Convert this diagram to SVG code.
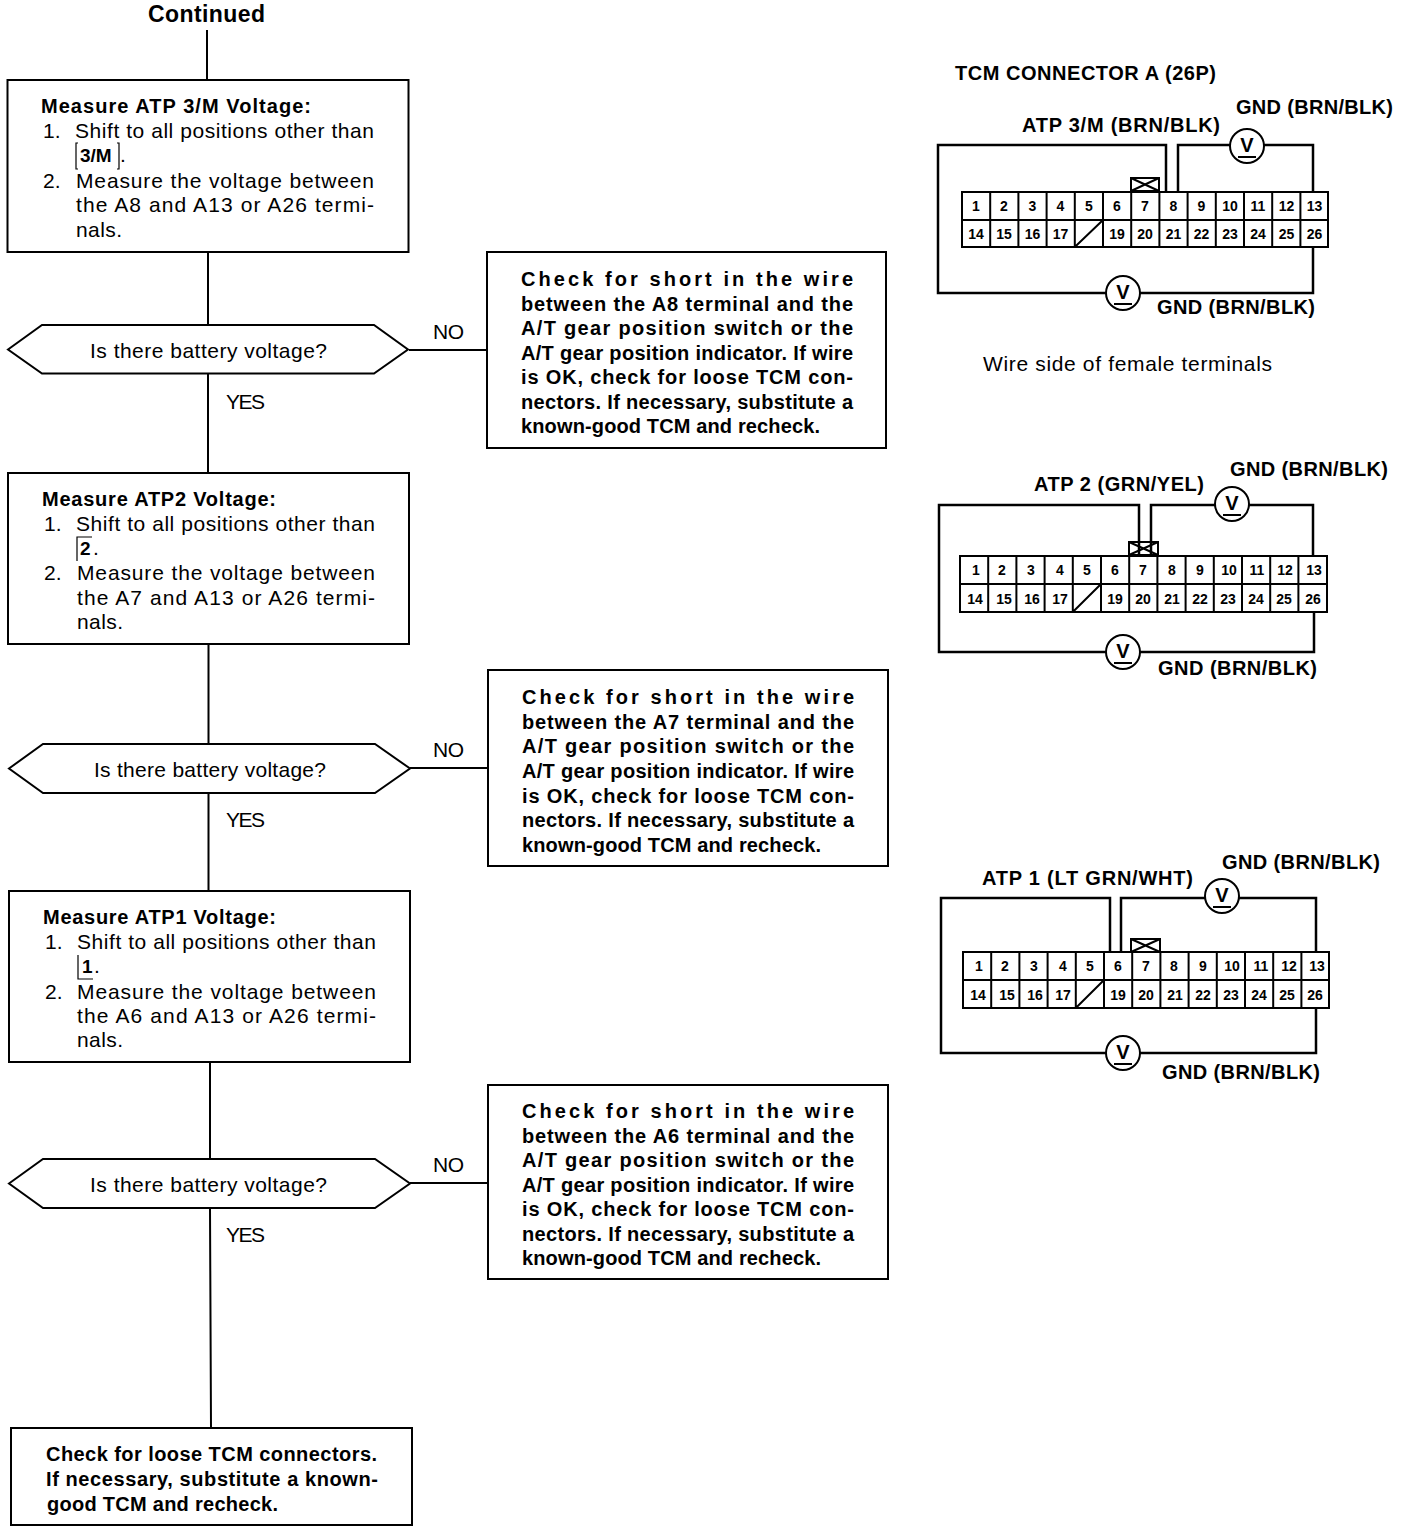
<svg xmlns="http://www.w3.org/2000/svg" width="1408" height="1532" viewBox="0 0 1408 1532">
<style>
text{font-family:"Liberation Sans",Arial,sans-serif;fill:#000}
.r{font-size:21px}
.b{font-size:20px;font-weight:bold}
.l{font-size:20px;font-weight:bold}
.n{font-size:14px;font-weight:bold;text-anchor:middle}
.k{font-size:19px;font-weight:bold}
.v{font-size:20px;font-weight:bold;text-anchor:middle}
.box{fill:#fff;stroke:#000;stroke-width:2}
.wire{fill:none;stroke:#000;stroke-width:2.5}
.thin{fill:none;stroke:#000;stroke-width:2}
.hair{fill:none;stroke:#000;stroke-width:1.2}
.m{fill:#fff;stroke:#000;stroke-width:2}
</style>
<rect width="1408" height="1532" fill="#fff"/>
<g id="connectors" class="thin">
<path d="M207 30V80M208 252V325M208 373V473M409 350H487"/>
<path d="M208.500 644V744M208.500 793V891M410 768H488"/>
<path d="M210 1062V1159M210 1208L211 1428M410 1183H488"/>
</g>
<g id="title"><text x="148" y="22" font-size="23" font-weight="bold" textLength="117">Continued</text></g>

<g id="measure-atp3m">
<rect class="box" x="7.500" y="80" width="401" height="172"/>
<text class="b" x="41" y="113" textLength="270">Measure ATP 3/M Voltage:</text>
<text class="r" x="43" y="138">1.</text>
<text class="r" x="75" y="138" textLength="299">Shift to all positions other than</text>
<path class="hair" d="M78 143H76V169H78M117 143H119V169H117"/>
<text class="k" x="80" y="162">3/M</text>
<text class="r" x="120" y="162">.</text>
<text class="r" x="43" y="188">2.</text>
<text class="r" x="76" y="188" textLength="298">Measure the voltage between</text>
<text class="r" x="76" y="212" textLength="298">the A8 and A13 or A26 termi-</text>
<text class="r" x="76" y="237" textLength="46">nals.</text>
</g>
<g id="decision-1">
<path class="box" d="M8 349.500L42 325H374L408 349.500L374 373.500H42Z"/>
<text class="r" x="90" y="358" textLength="237">Is there battery voltage?</text>
</g>
<text id="no-1" class="r" x="433" y="339" textLength="31">NO</text>
<text id="yes-1" class="r" x="226" y="409" textLength="39">YES</text>
<g id="check-a8">
<rect class="box" x="487" y="252" width="399" height="196"/>
<text class="b" x="521" y="286" textLength="332">Check for short in the wire</text>
<text class="b" x="521" y="311" textLength="332">between the A8 terminal and the</text>
<text class="b" x="521" y="335" textLength="332">A/T gear position switch or the</text>
<text class="b" x="521" y="360" textLength="332">A/T gear position indicator. If wire</text>
<text class="b" x="521" y="384" textLength="332">is OK, check for loose TCM con-</text>
<text class="b" x="521" y="409" textLength="332">nectors. If necessary, substitute a</text>
<text class="b" x="521" y="433" textLength="299">known-good TCM and recheck.</text>
</g>

<g id="measure-atp2">
<rect class="box" x="8" y="473" width="401" height="171"/>
<text class="b" x="42" y="506" textLength="234">Measure ATP2 Voltage:</text>
<text class="r" x="44" y="531">1.</text>
<text class="r" x="76" y="531" textLength="299">Shift to all positions other than</text>
<path class="hair" d="M77 561V537H92"/>
<text class="k" x="80" y="555">2</text>
<text class="r" x="93" y="555">.</text>
<text class="r" x="44" y="580">2.</text>
<text class="r" x="77" y="580" textLength="298">Measure the voltage between</text>
<text class="r" x="77" y="605" textLength="298">the A7 and A13 or A26 termi-</text>
<text class="r" x="77" y="629" textLength="46">nals.</text>
</g>
<g id="decision-2">
<path class="box" d="M9 768.500L43 744H375L410 768.500L375 793H43Z"/>
<text class="r" x="94" y="777" textLength="232">Is there battery voltage?</text>
</g>
<text id="no-2" class="r" x="433" y="757" textLength="31">NO</text>
<text id="yes-2" class="r" x="226" y="827" textLength="39">YES</text>
<g id="check-a7">
<rect class="box" x="488" y="670" width="400" height="196"/>
<text class="b" x="522" y="704" textLength="332">Check for short in the wire</text>
<text class="b" x="522" y="729" textLength="332">between the A7 terminal and the</text>
<text class="b" x="522" y="753" textLength="332">A/T gear position switch or the</text>
<text class="b" x="522" y="778" textLength="332">A/T gear position indicator. If wire</text>
<text class="b" x="522" y="803" textLength="332">is OK, check for loose TCM con-</text>
<text class="b" x="522" y="827" textLength="332">nectors. If necessary, substitute a</text>
<text class="b" x="522" y="852" textLength="299">known-good TCM and recheck.</text>
</g>

<g id="measure-atp1">
<rect class="box" x="9" y="891" width="401" height="171"/>
<text class="b" x="43" y="924" textLength="233">Measure ATP1 Voltage:</text>
<text class="r" x="45" y="949">1.</text>
<text class="r" x="77" y="949" textLength="299">Shift to all positions other than</text>
<path class="hair" d="M78 955V979H93"/>
<text class="k" x="82" y="973">1</text>
<text class="r" x="94" y="973">.</text>
<text class="r" x="45" y="999">2.</text>
<text class="r" x="77" y="999" textLength="299">Measure the voltage between</text>
<text class="r" x="77" y="1023" textLength="299">the A6 and A13 or A26 termi-</text>
<text class="r" x="77" y="1047" textLength="46">nals.</text>
</g>
<g id="decision-3">
<path class="box" d="M9 1183.500L43 1159H375L410 1183.500L375 1208H43Z"/>
<text class="r" x="90" y="1192" textLength="237">Is there battery voltage?</text>
</g>
<text id="no-3" class="r" x="433" y="1172" textLength="31">NO</text>
<text id="yes-3" class="r" x="226" y="1242" textLength="39">YES</text>
<g id="check-a6">
<rect class="box" x="488" y="1085" width="400" height="194"/>
<text class="b" x="522" y="1118" textLength="332">Check for short in the wire</text>
<text class="b" x="522" y="1143" textLength="332">between the A6 terminal and the</text>
<text class="b" x="522" y="1167" textLength="332">A/T gear position switch or the</text>
<text class="b" x="522" y="1192" textLength="332">A/T gear position indicator. If wire</text>
<text class="b" x="522" y="1216" textLength="332">is OK, check for loose TCM con-</text>
<text class="b" x="522" y="1241" textLength="332">nectors. If necessary, substitute a</text>
<text class="b" x="522" y="1265" textLength="299">known-good TCM and recheck.</text>
</g>

<g id="final-check">
<rect class="box" x="11" y="1428" width="401" height="97"/>
<text class="b" x="46" y="1461" textLength="331">Check for loose TCM connectors.</text>
<text class="b" x="46" y="1486" textLength="332">If necessary, substitute a known-</text>
<text class="b" x="47" y="1511" textLength="231">good TCM and recheck.</text>
</g>

<g id="connector-atp3m">
<text class="l" x="955" y="80" textLength="261">TCM CONNECTOR A (26P)</text>
<text class="l" x="1236" y="114" textLength="157">GND (BRN/BLK)</text>
<text class="l" x="1022" y="132" textLength="198">ATP 3/M (BRN/BLK)</text>
<text class="l" x="1157" y="314" textLength="158">GND (BRN/BLK)</text>
<text class="r" x="983" y="371" textLength="289">Wire side of female terminals</text>
<path class="wire" d="M1166 191V145H938V293H1313V247M1178 191V145H1313V191"/>
<path class="thin" d="M1131 178H1159V191H1131ZM1131 178L1159 191M1159 178L1131 191"/>
<circle class="m" cx="1247" cy="146" r="17"/><text class="v" x="1247" y="152">V</text><path class="thin" d="M1238 157H1256"/>
<circle class="m" cx="1123" cy="293" r="17"/><text class="v" x="1123" y="299">V</text><path class="thin" d="M1114 304H1132"/>
<g transform="translate(962 192)">
<path class="thin" d="M0 0H366V55H0ZM0 28H366M28.200 0V55M56.400 0V55M84.600 0V55M112.800 0V55M141 0V55M169.200 0V55M197.400 0V55M225.600 0V55M253.800 0V55M282 0V55M310.200 0V55M338.400 0V55M112.800 55L141 28"/>
<text class="n" x="14" y="19">1</text><text class="n" x="42" y="19">2</text><text class="n" x="70.500" y="19">3</text><text class="n" x="98.500" y="19">4</text><text class="n" x="127" y="19">5</text><text class="n" x="155" y="19">6</text><text class="n" x="183" y="19">7</text><text class="n" x="211.500" y="19">8</text><text class="n" x="239.500" y="19">9</text><text class="n" x="268" y="19">10</text><text class="n" x="296" y="19">11</text><text class="n" x="324.500" y="19">12</text><text class="n" x="352.500" y="19">13</text>
<text class="n" x="14" y="47">14</text><text class="n" x="42" y="47">15</text><text class="n" x="70.500" y="47">16</text><text class="n" x="98.500" y="47">17</text><text class="n" x="155" y="47">19</text><text class="n" x="183" y="47">20</text><text class="n" x="211.500" y="47">21</text><text class="n" x="239.500" y="47">22</text><text class="n" x="268" y="47">23</text><text class="n" x="296" y="47">24</text><text class="n" x="324.500" y="47">25</text><text class="n" x="352.500" y="47">26</text>
</g>
</g>

<g id="connector-atp2">
<text class="l" x="1230" y="476" textLength="158">GND (BRN/BLK)</text>
<text class="l" x="1034" y="491" textLength="170">ATP 2 (GRN/YEL)</text>
<text class="l" x="1158" y="675" textLength="159">GND (BRN/BLK)</text>
<path class="wire" d="M1139 555V505H939V652H1314V612M1151 555V505H1313V555"/>
<path class="thin" d="M1129 542H1158V555H1129ZM1129 542L1158 555M1158 542L1129 555"/>
<circle class="m" cx="1232" cy="504" r="17"/><text class="v" x="1232" y="510">V</text><path class="thin" d="M1223 515H1241"/>
<circle class="m" cx="1123" cy="652" r="17"/><text class="v" x="1123" y="658">V</text><path class="thin" d="M1114 663H1132"/>
<g transform="translate(960 556)">
<path class="thin" d="M0 0H367V56H0ZM0 28H367M28.200 0V56M56.400 0V56M84.600 0V56M112.800 0V56M141 0V56M169.200 0V56M197.400 0V56M225.600 0V56M253.800 0V56M282 0V56M310.200 0V56M338.400 0V56M112.800 56L141 28"/>
<text class="n" x="16" y="19">1</text><text class="n" x="42" y="19">2</text><text class="n" x="71" y="19">3</text><text class="n" x="100" y="19">4</text><text class="n" x="127" y="19">5</text><text class="n" x="155" y="19">6</text><text class="n" x="183" y="19">7</text><text class="n" x="212" y="19">8</text><text class="n" x="240" y="19">9</text><text class="n" x="269" y="19">10</text><text class="n" x="297" y="19">11</text><text class="n" x="325" y="19">12</text><text class="n" x="354" y="19">13</text>
<text class="n" x="15" y="48">14</text><text class="n" x="44" y="48">15</text><text class="n" x="72" y="48">16</text><text class="n" x="100" y="48">17</text><text class="n" x="155" y="48">19</text><text class="n" x="183" y="48">20</text><text class="n" x="212" y="48">21</text><text class="n" x="240" y="48">22</text><text class="n" x="268" y="48">23</text><text class="n" x="296" y="48">24</text><text class="n" x="324" y="48">25</text><text class="n" x="353" y="48">26</text>
</g>
</g>

<g id="connector-atp1">
<text class="l" x="1222" y="869" textLength="158">GND (BRN/BLK)</text>
<text class="l" x="982" y="885" textLength="211">ATP 1 (LT GRN/WHT)</text>
<text class="l" x="1162" y="1079" textLength="158">GND (BRN/BLK)</text>
<path class="wire" d="M1110 952V898H941V1053H1316V1008M1121 952V898H1316V952"/>
<path class="thin" d="M1131 939H1160V952H1131ZM1131 939L1160 952M1160 939L1131 952"/>
<circle class="m" cx="1222" cy="896" r="17"/><text class="v" x="1222" y="902">V</text><path class="thin" d="M1213 907H1231"/>
<circle class="m" cx="1123" cy="1053" r="17"/><text class="v" x="1123" y="1059">V</text><path class="thin" d="M1114 1064H1132"/>
<g transform="translate(963 952)">
<path class="thin" d="M0 0H366V56H0ZM0 28H366M28.200 0V56M56.400 0V56M84.600 0V56M112.800 0V56M141 0V56M169.200 0V56M197.400 0V56M225.600 0V56M253.800 0V56M282 0V56M310.200 0V56M338.400 0V56M112.800 56L141 28"/>
<text class="n" x="16" y="19">1</text><text class="n" x="42" y="19">2</text><text class="n" x="71" y="19">3</text><text class="n" x="100" y="19">4</text><text class="n" x="127" y="19">5</text><text class="n" x="155" y="19">6</text><text class="n" x="183" y="19">7</text><text class="n" x="211" y="19">8</text><text class="n" x="240" y="19">9</text><text class="n" x="269" y="19">10</text><text class="n" x="298" y="19">11</text><text class="n" x="326" y="19">12</text><text class="n" x="354" y="19">13</text>
<text class="n" x="15" y="48">14</text><text class="n" x="44" y="48">15</text><text class="n" x="72" y="48">16</text><text class="n" x="100" y="48">17</text><text class="n" x="155" y="48">19</text><text class="n" x="183" y="48">20</text><text class="n" x="212" y="48">21</text><text class="n" x="240" y="48">22</text><text class="n" x="268" y="48">23</text><text class="n" x="296" y="48">24</text><text class="n" x="324" y="48">25</text><text class="n" x="352" y="48">26</text>
</g>
</g>
</svg>
